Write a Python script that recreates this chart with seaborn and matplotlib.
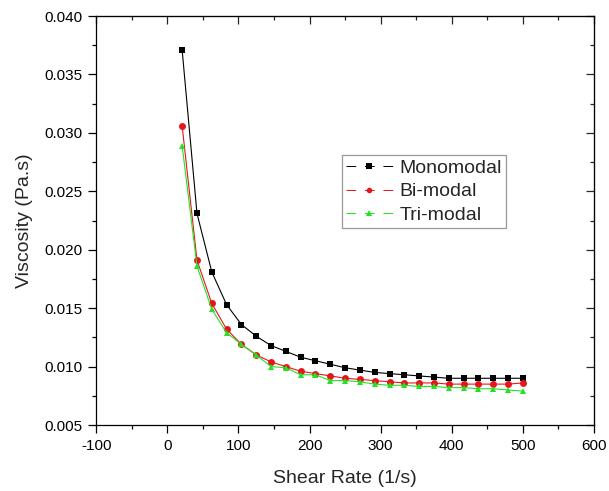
import pandas as pd
import matplotlib
matplotlib.use("Agg")
import matplotlib.pyplot as plt
import seaborn as sns

# Shear rate values (1/s)
shear_rate = [20.8, 41.7, 62.5, 83.3, 104.2, 125.0, 145.8, 166.7, 187.5, 208.3, 229.2, 250.0,
              270.8, 291.7, 312.5, 333.3, 354.2, 375.0, 395.8, 416.7, 437.5, 458.3, 479.2, 500.0]

# Viscosity (Pa.s)
mono = [0.0371, 0.0231, 0.0181, 0.0153, 0.0136, 0.0126, 0.0118, 0.0113, 0.0108, 0.0105, 0.0102, 0.0099,
        0.0097, 0.0095, 0.0094, 0.0093, 0.0092, 0.0091, 0.0090, 0.0090, 0.0090, 0.0090, 0.0090, 0.0090]
bi = [0.0306, 0.0191, 0.0154, 0.0132, 0.0119, 0.0110, 0.0104, 0.0100, 0.0096, 0.0094, 0.0092, 0.0090,
      0.0089, 0.0088, 0.0087, 0.0086, 0.0086, 0.0086, 0.0085, 0.0085, 0.0085, 0.0085, 0.0085, 0.0086]
tri = [0.0289, 0.0186, 0.0149, 0.0129, 0.0119, 0.0110, 0.0100, 0.0099, 0.0093, 0.0093, 0.0088, 0.0088,
       0.0087, 0.0085, 0.0084, 0.0084, 0.0083, 0.0083, 0.0082, 0.0082, 0.0081, 0.0081, 0.0080, 0.0079]

labels = ["Monomodal", "Bi-modal", "Tri-modal"]
colors = {"Monomodal": "black", "Bi-modal": "#e8141c", "Tri-modal": "#22e222"}
markers = {"Monomodal": "s", "Bi-modal": "o", "Tri-modal": "^"}

df = pd.concat([
    pd.DataFrame({"rate": shear_rate, "visc": v, "sample": lab})
    for lab, v in zip(labels, [mono, bi, tri])
])

sns.set_style("white")
plt.rcParams["font.family"] = ["Liberation Sans", "DejaVu Sans"]
plt.rcParams["axes.unicode_minus"] = False

fig = plt.figure(figsize=(6.09, 4.91), dpi=100)
ax = fig.add_axes([0.158, 0.1344, 0.8174, 0.833])

sns.lineplot(data=df, x="rate", y="visc", hue="sample", style="sample",
             palette=colors, markers=markers, dashes=False, legend=False,
             linewidth=0.8, markersize=5, markeredgewidth=0, ax=ax)

ax.set_xlim(-100, 600)
ax.set_ylim(0.005, 0.040)
ax.set_xticks(range(-100, 601, 100))
ax.set_xticks(range(-50, 600, 100), minor=True)
ax.set_yticks([0.005, 0.010, 0.015, 0.020, 0.025, 0.030, 0.035, 0.040])
ax.set_yticks([0.0075, 0.0125, 0.0175, 0.0225, 0.0275, 0.0325, 0.0375], minor=True)
ax.set_yticklabels([f"{v:.3f}" for v in ax.get_yticks()])

ax.set_xlabel("Shear Rate (1/s)", fontsize=14, labelpad=12)
ax.set_ylabel("Viscosity (Pa.s)", fontsize=14, labelpad=8)

for s in ax.spines.values():
    s.set_color("black")
    s.set_linewidth(0.9)

ax.tick_params(which="both", direction="out", colors="black", width=0.9,
               labelsize=11, pad=4, bottom=True, left=True)
ax.tick_params(which="major", length=6)
ax.tick_params(which="minor", length=3)

# inward ticks on top and right edges
top = ax.secondary_xaxis("top")
top.set_xticks(range(-100, 601, 100))
top.set_xticks(range(-50, 600, 100), minor=True)
top.tick_params(which="both", direction="in", labeltop=False, width=0.9)
top.tick_params(which="major", length=6)
top.tick_params(which="minor", length=3)
right = ax.secondary_yaxis("right")
right.set_yticks(ax.get_yticks())
right.set_yticks([0.0075, 0.0125, 0.0175, 0.0225, 0.0275, 0.0325, 0.0375], minor=True)
right.tick_params(which="both", direction="in", labelright=False, width=0.9)
right.tick_params(which="major", length=6)
right.tick_params(which="minor", length=3)

handles = ax.get_lines()[:3]
leg = ax.legend(handles, labels, loc="upper left", bbox_to_anchor=(0.494, 0.66),
                borderaxespad=0, fontsize=14, frameon=True, fancybox=False,
                handlelength=2.4, handletextpad=0.35, labelspacing=0.32,
                borderpad=0.2)
leg.get_frame().set_edgecolor("#808080")
leg.get_frame().set_linewidth(0.9)
for ln in leg.get_lines():
    ln.set_dashes([10, 9])
    ln.set_linewidth(0.7)
    ln.set_markersize(4)

fig.savefig("out.png", dpi=100)
